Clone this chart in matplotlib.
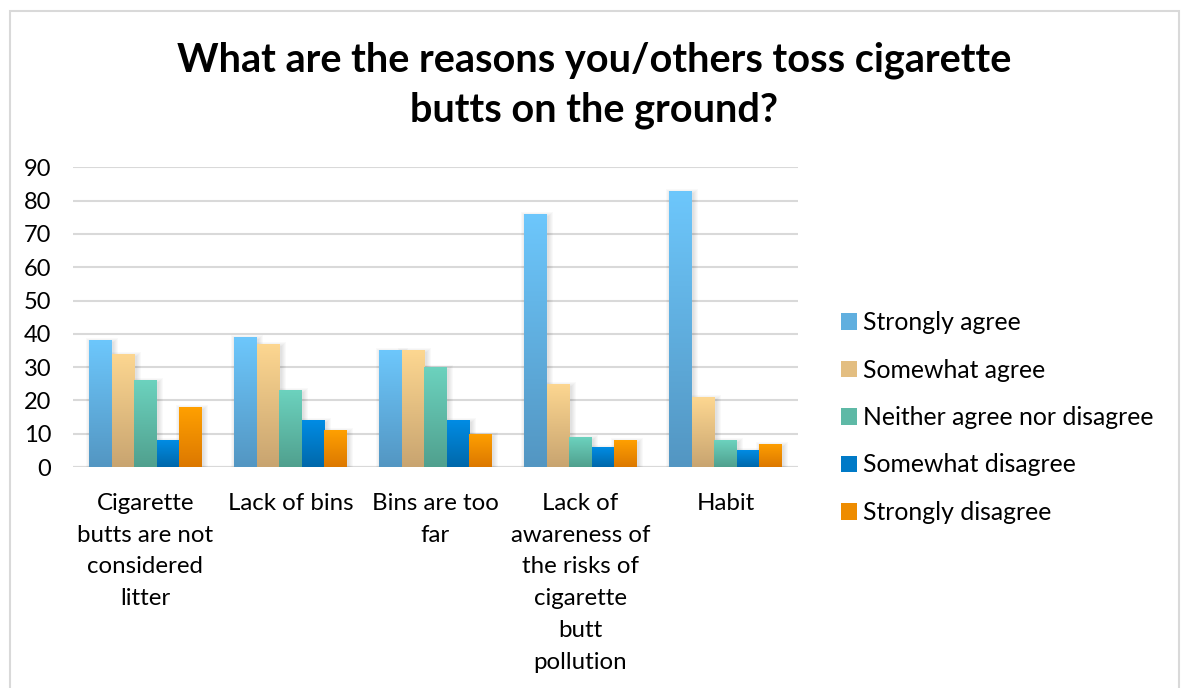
import numpy as np
import matplotlib
matplotlib.use("Agg")
import matplotlib.pyplot as plt
from matplotlib.patches import Rectangle
from matplotlib.colors import LinearSegmentedColormap, to_rgb

plt.rcParams["font.family"] = ["Lato", "DejaVu Sans"]

categories = [
    "Cigarette\nbutts are not\nconsidered\nlitter",
    "Lack of bins",
    "Bins are too\nfar",
    "Lack of\nawareness of\nthe risks of\ncigarette\nbutt\npollution",
    "Habit",
]
series_names = [
    "Strongly agree",
    "Somewhat agree",
    "Neither agree nor disagree",
    "Somewhat disagree",
    "Strongly disagree",
]
strongly_agree = [38, 39, 35, 76, 83]
somewhat_agree = [34, 37, 35, 25, 21]
neither = [26, 23, 30, 9, 8]
somewhat_disagree = [8, 14, 14, 6, 5]
strongly_disagree = [18, 11, 10, 8, 7]
series_values = [strongly_agree, somewhat_agree, neither,
                 somewhat_disagree, strongly_disagree]
y_ticks = list(range(0, 91, 10))

# (top colour, bottom colour) of each series' vertical gradient
gradients = [
    ("#6DC7FC", "#5396C2"),
    ("#FDD791", "#C8A470"),
    ("#6CD2BE", "#50A08E"),
    ("#008CE4", "#0068AA"),
    ("#FFA000", "#DC7800"),
]

W, H = 1182, 688
fig = plt.figure(figsize=(W / 100, H / 100), dpi=100)
fig.patch.set_facecolor("white")

# light outer frame of the chart area
fig.add_artist(Rectangle((10 / W, -0.05), (1179 - 10) / W, 1.05 - 11 / H,
                         transform=fig.transFigure, fill=False,
                         edgecolor="#D9D9D9", linewidth=1.5))

title_kw = dict(ha="center", va="center", fontsize=28.5, fontweight="bold",
                color="black")
fig.text(594 / W, 1 - 60 / H, "What are the reasons you/others toss cigarette",
         **title_kw)
fig.text(594 / W, 1 - 110 / H, "butts on the ground?", **title_kw)

ax_l, ax_r, ax_b, ax_t = 73, 798, 467, 167.3
ax = fig.add_axes([ax_l / W, 1 - ax_b / H, (ax_r - ax_l) / W, (ax_b - ax_t) / H])
ax.set_facecolor("none")

n_cat = len(categories)
n_ser = len(series_values)
bw = 0.1545
x = np.arange(n_cat)
xlim = (-0.5, n_cat - 0.5)
ylim = (0, 90)

px_x = (xlim[1] - xlim[0]) / (ax_r - ax_l)
px_y = (ylim[1] - ylim[0]) / (ax_b - ax_t)

grad = np.linspace(0, 1, 256).reshape(-1, 1)
for i, (vals, (ctop, cbot)) in enumerate(zip(series_values, gradients)):
    cmap = LinearSegmentedColormap.from_list(f"g{i}", [cbot, ctop])
    offs = x + (i - (n_ser - 1) / 2) * bw
    bars = ax.bar(offs, vals, width=bw, color=cbot, linewidth=0, zorder=3,
                  label=series_names[i])
    for b in bars:
        x0, y0 = b.get_x(), b.get_y()
        w, h = b.get_width(), b.get_height()
        # soft drop shadow
        for k in range(1, 6):
            ax.add_patch(Rectangle((x0 + (1.5 - k) * px_x, y0 - (2 + k) * px_y),
                                   w + (2 * k) * px_x, h + (2 * k - 1) * px_y,
                                   facecolor="black", alpha=0.025,
                                   linewidth=0, zorder=2))
        b.set_facecolor("none")
        im = ax.imshow(grad, cmap=cmap, origin="lower", aspect="auto",
                       extent=(x0, x0 + w, y0, y0 + h), zorder=3,
                       interpolation="bilinear")
        im.set_clip_path(b)

ax.set_xlim(*xlim)
ax.set_ylim(*ylim)
ax.set_yticks(y_ticks)
ax.set_xticks(x)
ax.set_xticklabels(categories, fontsize=17.3, linespacing=1.64, color="black")
ax.tick_params(axis="y", labelsize=17, labelcolor="black", length=0, pad=15.8)
ax.tick_params(axis="x", length=0, pad=18.5)
for lbl in ax.get_xticklabels():
    lbl.set_verticalalignment("top")
ax.grid(axis="y", color="#D9D9D9", linewidth=1.5, zorder=1)
ax.set_axisbelow(True)
for s in ax.spines.values():
    s.set_visible(False)
ax.axhline(0, color="#D9D9D9", linewidth=1.5, zorder=1)

handles = [Rectangle((0, 0), 1, 1,
                     facecolor=(np.array(to_rgb(ct)) + np.array(to_rgb(cb))) / 2,
                     linewidth=0) for ct, cb in gradients]
leg = fig.legend(handles, series_names, loc="center left",
                 bbox_to_anchor=(841 / W, 1 - 417.5 / H), frameon=False,
                 fontsize=17.8, handlelength=0.65, handleheight=0.65,
                 handletextpad=0.25, labelspacing=0.99, borderpad=0,
                 borderaxespad=0)
for t in leg.get_texts():
    t.set_color("black")

fig.savefig("out.png", dpi=100, facecolor="white")
